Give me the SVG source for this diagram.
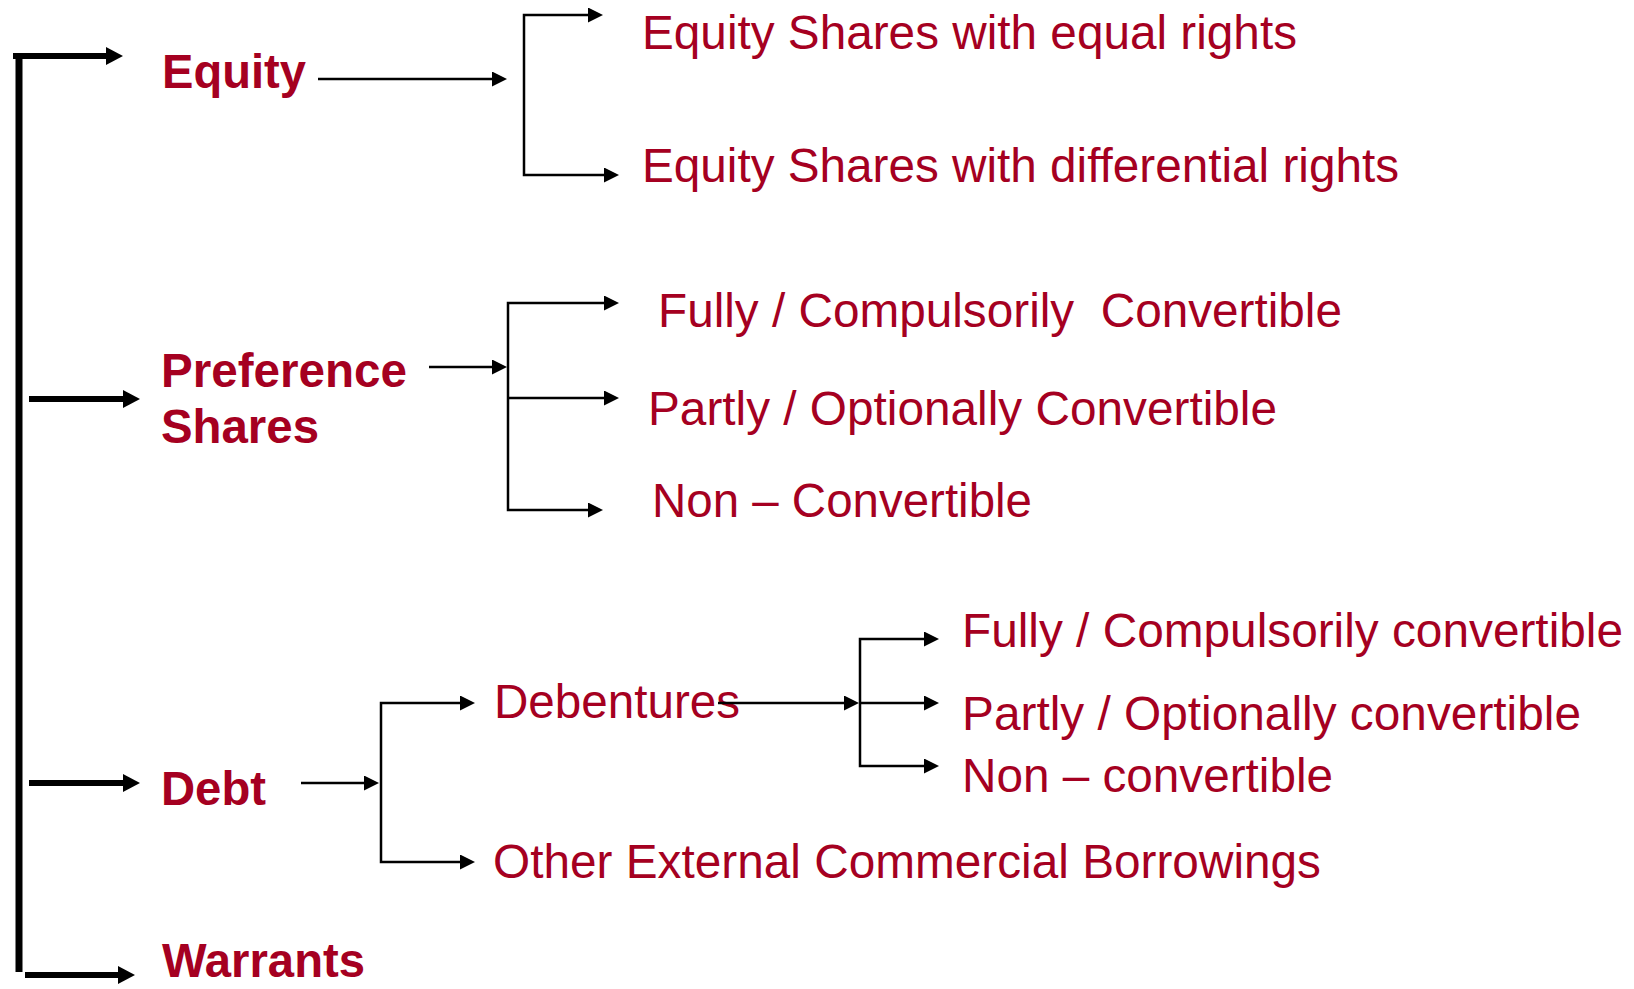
<svg xmlns="http://www.w3.org/2000/svg" width="1634" height="989" viewBox="0 0 1634 989">
<style>
.b{font-family:"Liberation Sans",Arial,sans-serif;font-weight:bold;font-size:48px;fill:#A50021;}
.r{font-family:"Liberation Sans",Arial,sans-serif;font-size:47.5px;fill:#A50021;white-space:pre;}
.thick{stroke:#000;stroke-width:6;fill:none;}
.thin{stroke:#000;stroke-width:2.5;fill:none;}
</style>
<defs>
<marker id="hk" markerUnits="userSpaceOnUse" markerWidth="18" markerHeight="18" refX="1" refY="9" orient="auto-start-reverse"><path d="M0,0 L17,9 L0,18 z" fill="#000"/></marker>
<marker id="hn" markerUnits="userSpaceOnUse" markerWidth="16" markerHeight="15" refX="1" refY="7.5" orient="auto-start-reverse"><path d="M0,0 L15,7.5 L0,15 z" fill="#000"/></marker>
</defs>
<rect width="1634" height="989" fill="#fff"/>
<g id="equity"><text class="b" x="162" y="88" textLength="144" lengthAdjust="spacingAndGlyphs">Equity</text></g>
<g id="preference"><text class="b" x="161" y="387" textLength="246" lengthAdjust="spacingAndGlyphs">Preference</text><text class="b" x="161" y="443" textLength="158" lengthAdjust="spacingAndGlyphs">Shares</text></g>
<g id="debt"><text class="b" x="161" y="805" textLength="105" lengthAdjust="spacingAndGlyphs">Debt</text></g>
<g id="warrants"><text class="b" x="162" y="977" textLength="203" lengthAdjust="spacingAndGlyphs">Warrants</text></g>
<g id="eq-equal"><text class="r" x="642" y="49" textLength="655" lengthAdjust="spacingAndGlyphs">Equity Shares with equal rights</text></g>
<g id="eq-diff"><text class="r" x="642" y="182" textLength="757" lengthAdjust="spacingAndGlyphs">Equity Shares with differential rights</text></g>
<g id="pref-fully"><text class="r" x="658" y="327" textLength="684" lengthAdjust="spacingAndGlyphs">Fully / Compulsorily  Convertible</text></g>
<g id="pref-partly"><text class="r" x="648" y="425" textLength="629" lengthAdjust="spacingAndGlyphs">Partly / Optionally Convertible</text></g>
<g id="pref-non"><text class="r" x="652" y="517" textLength="380" lengthAdjust="spacingAndGlyphs">Non – Convertible</text></g>
<g id="debentures"><text class="r" x="494" y="718" textLength="246" lengthAdjust="spacingAndGlyphs">Debentures</text></g>
<g id="ecb"><text class="r" x="493" y="878" textLength="828" lengthAdjust="spacingAndGlyphs">Other External Commercial Borrowings</text></g>
<g id="deb-fully"><text class="r" x="962" y="647" textLength="661" lengthAdjust="spacingAndGlyphs">Fully / Compulsorily convertible</text></g>
<g id="deb-partly"><text class="r" x="962" y="730" textLength="619" lengthAdjust="spacingAndGlyphs">Partly / Optionally convertible</text></g>
<g id="deb-non"><text class="r" x="962" y="792" textLength="371" lengthAdjust="spacingAndGlyphs">Non – convertible</text></g>
<g id="connectors">
<line x1="19" y1="53" x2="19" y2="972" stroke="#000" stroke-width="7"/>
<line class="thick" x1="13" y1="56" x2="107" y2="56" marker-end="url(#hk)"/>
<line class="thick" x1="29" y1="399" x2="124" y2="399" marker-end="url(#hk)"/>
<line class="thick" x1="29" y1="783" x2="124" y2="783" marker-end="url(#hk)"/>
<line class="thick" x1="25" y1="975" x2="119" y2="975" marker-end="url(#hk)"/>
<line class="thin" x1="318" y1="79" x2="493" y2="79" marker-end="url(#hn)"/>
<path class="thin" d="M589,15 H524 V175 H605" marker-start="url(#hn)" marker-end="url(#hn)"/>
<line class="thin" x1="429" y1="367" x2="493" y2="367" marker-end="url(#hn)"/>
<path class="thin" d="M605,303 H508 V510 H589" marker-start="url(#hn)" marker-end="url(#hn)"/>
<line class="thin" x1="508" y1="398" x2="605" y2="398" marker-end="url(#hn)"/>
<line class="thin" x1="301" y1="783" x2="365" y2="783" marker-end="url(#hn)"/>
<path class="thin" d="M461,703 H381 V862 H461" marker-start="url(#hn)" marker-end="url(#hn)"/>
<line class="thin" x1="718" y1="703" x2="845" y2="703" marker-end="url(#hn)"/>
<path class="thin" d="M925,639 H860 V766 H925" marker-start="url(#hn)" marker-end="url(#hn)"/>
<line class="thin" x1="860" y1="703" x2="925" y2="703" marker-end="url(#hn)"/>
</g>
</svg>
